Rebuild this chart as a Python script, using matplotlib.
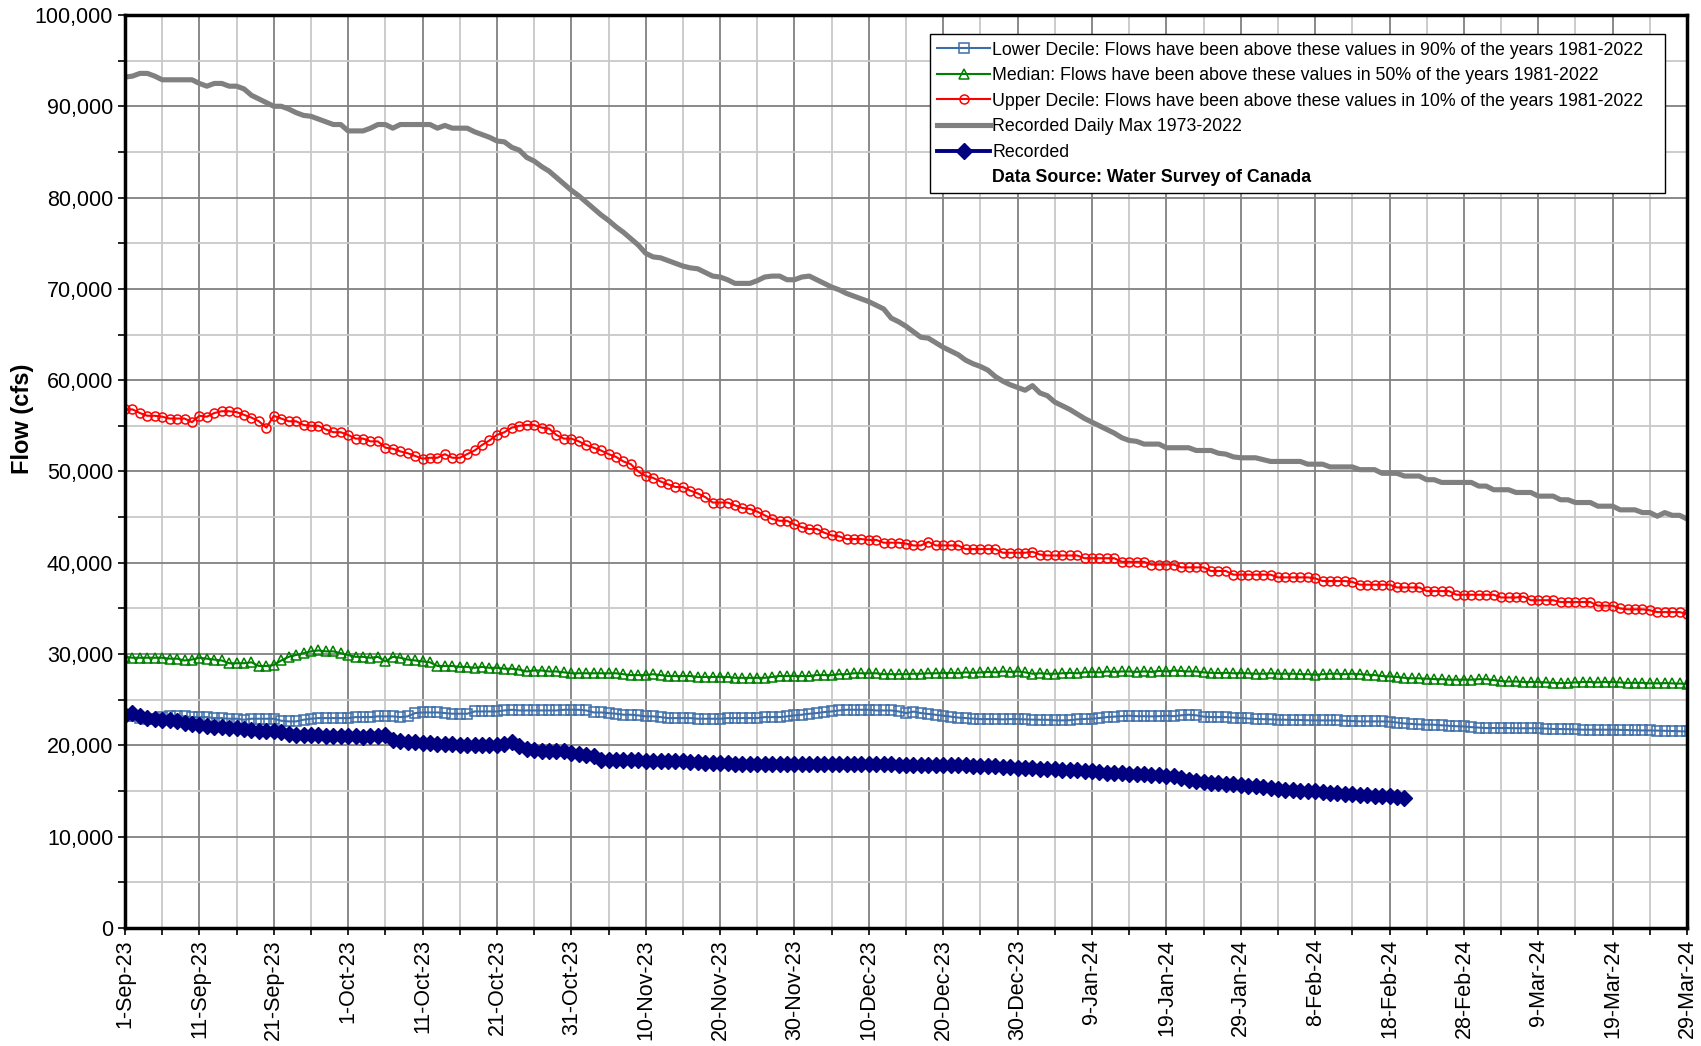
import numpy as np
import pandas as pd
import matplotlib
matplotlib.use("Agg")
import matplotlib.pyplot as plt
from matplotlib.ticker import FuncFormatter, MultipleLocator

plt.rcParams['font.family'] = ['Liberation Sans', 'DejaVu Sans']

dates = pd.date_range("2023-09-01", "2024-03-29", freq="D")

# Recorded Daily Max 1973-2022
daily_max = [
    93200, 93300, 93600, 93600, 93300, 92900, 92900, 92900, 92900, 92900,
    92500, 92200, 92500, 92500, 92200, 92200, 91900, 91200, 90800, 90400,
    90000, 90000, 89700, 89300, 89000, 88900, 88600, 88300, 88000, 88000,
    87300, 87300, 87300, 87600, 88000, 88000, 87600, 88000, 88000, 88000,
    88000, 88000, 87600, 87900, 87600, 87600, 87600, 87200, 86900, 86600,
    86200, 86100, 85500, 85200, 84400, 84000, 83400, 82900, 82200, 81500,
    80800, 80200, 79500, 78800, 78100, 77500, 76800, 76200, 75500, 74800,
    73900, 73500, 73400, 73100, 72800, 72500, 72300, 72200, 71800, 71400,
    71300, 71000, 70600, 70600, 70600, 70900, 71300, 71400, 71400, 71000,
    71000, 71300, 71400, 71000, 70600, 70200, 69900, 69500, 69200, 68900,
    68600, 68200, 67800, 66800, 66400, 65900, 65300, 64700, 64600, 64100,
    63600, 63200, 62800, 62200, 61800, 61500, 61100, 60400, 59900, 59500,
    59200, 58900, 59400, 58600, 58300, 57600, 57200, 56800, 56300, 55800,
    55400, 55000, 54600, 54200, 53700, 53400, 53300, 53000, 53000, 53000,
    52600, 52600, 52600, 52600, 52300, 52300, 52300, 52000, 51900, 51600,
    51500, 51500, 51500, 51300, 51100, 51100, 51100, 51100, 51100, 50800,
    50800, 50800, 50500, 50500, 50500, 50500, 50200, 50200, 50200, 49800,
    49800, 49800, 49500, 49500, 49500, 49100, 49100, 48800, 48800, 48800,
    48800, 48800, 48400, 48400, 48000, 48000, 48000, 47700, 47700, 47700,
    47300, 47300, 47300, 46900, 46900, 46600, 46600, 46600, 46200, 46200,
    46200, 45800, 45800, 45800, 45500, 45500, 45100, 45500, 45200, 45200,
    44800,
]

# Upper Decile
upper = [
    56800, 56800, 56400, 56100, 56100, 56000, 55800, 55800, 55800, 55400,
    56100, 56000, 56400, 56600, 56600, 56500, 56200, 55900, 55500, 54800,
    56100, 55800, 55500, 55500, 55100, 55000, 55000, 54600, 54300, 54300,
    54000, 53600, 53600, 53300, 53300, 52600, 52500, 52200, 52000, 51700,
    51400, 51500, 51500, 51900, 51500, 51500, 51900, 52300, 52900, 53400,
    54000, 54300, 54800, 55000, 55100, 55100, 54800, 54700, 54000, 53600,
    53600, 53300, 52900, 52600, 52300, 51900, 51600, 51100, 50800, 50000,
    49500, 49300, 48900, 48600, 48300, 48300, 47900, 47600, 47200, 46600,
    46600, 46600, 46300, 46000, 45900, 45600, 45200, 44800, 44600, 44600,
    44200, 43900, 43700, 43700, 43300, 43000, 42900, 42600, 42600, 42600,
    42500, 42500, 42200, 42200, 42200, 42100, 41900, 41900, 42300, 41900,
    41900, 41900, 41900, 41500, 41500, 41500, 41500, 41500, 41100, 41100,
    41100, 41100, 41200, 40900, 40800, 40800, 40800, 40800, 40800, 40500,
    40500, 40500, 40500, 40500, 40100, 40100, 40100, 40100, 39800, 39800,
    39800, 39800, 39500, 39500, 39500, 39500, 39100, 39100, 39100, 38700,
    38700, 38700, 38700, 38700, 38700, 38400, 38400, 38400, 38400, 38400,
    38300, 38000, 38000, 38000, 38000, 37900, 37600, 37600, 37600, 37600,
    37600, 37300, 37300, 37300, 37300, 36900, 36900, 36900, 36900, 36500,
    36500, 36500, 36500, 36500, 36500, 36200, 36200, 36200, 36300, 35900,
    35900, 35900, 35900, 35700, 35700, 35700, 35700, 35700, 35300, 35300,
    35300, 35000, 34900, 34900, 34900, 34800, 34600, 34600, 34600, 34600,
    34400,
]

# Median
median = [
    29700, 29600, 29600, 29600, 29600, 29600, 29500, 29500, 29300, 29400,
    29600, 29500, 29400, 29300, 29000, 29000, 29000, 29100, 28700, 28700,
    28800, 29300, 29700, 29900, 30100, 30300, 30400, 30300, 30300, 30100,
    29900, 29700, 29700, 29600, 29700, 29200, 29700, 29600, 29400, 29300,
    29200, 29100, 28700, 28700, 28700, 28600, 28600, 28500, 28600, 28500,
    28500, 28400, 28400, 28300, 28100, 28200, 28200, 28100, 28100, 28000,
    27900, 27900, 27900, 27900, 27900, 27900, 27900, 27800, 27700, 27700,
    27700, 27800, 27700, 27600, 27600, 27600, 27600, 27500, 27500, 27500,
    27500, 27500, 27400, 27400, 27400, 27400, 27400, 27500, 27600, 27600,
    27600, 27600, 27600, 27700, 27700, 27700, 27800, 27800, 27900, 27900,
    27900, 27900, 27800, 27800, 27800, 27800, 27850, 27850, 27900, 27900,
    27920, 27950, 27900, 28000, 27950, 27990, 28050, 28000, 28100, 28050,
    28100, 28000, 27850, 27900, 27850, 27850, 27900, 27950, 27900, 28000,
    28030, 28000, 28100, 28050, 28100, 28100, 28050, 28100, 28050, 28150,
    28100, 28200, 28150, 28100, 28100, 28000, 27950, 27920, 27950, 27900,
    27920, 27900, 27850, 27850, 27900, 27850, 27850, 27850, 27800, 27800,
    27740, 27800, 27850, 27850, 27800, 27850, 27800, 27750, 27700, 27600,
    27550, 27500, 27400, 27350, 27350, 27300, 27260, 27250, 27200, 27200,
    27190, 27200, 27250, 27250, 27150, 27050, 27000, 27000, 26950, 26950,
    26940, 26900, 26850, 26820, 26850, 26900, 26950, 26950, 26900, 26950,
    26940, 26900, 26850, 26850, 26850, 26800, 26800, 26820, 26800, 26780,
    26750,
]

# Lower Decile
lower = [
    23250, 23180, 22990, 22920, 22920, 23100, 23180, 23180, 23180, 23100,
    23100, 23100, 22990, 22990, 22920, 22920, 22810, 22920, 22920, 22920,
    22920, 22700, 22630, 22630, 22810, 22920, 22990, 22990, 22990, 22990,
    22990, 23100, 23100, 23100, 23180, 23180, 23180, 23100, 23180, 23540,
    23610, 23610, 23610, 23540, 23470, 23470, 23470, 23720, 23720, 23720,
    23720, 23830, 23900, 23830, 23830, 23830, 23830, 23830, 23830, 23900,
    23900, 23900, 23830, 23610, 23610, 23540, 23470, 23360, 23360, 23290,
    23180, 23180, 23100, 22990, 22990, 22990, 22990, 22920, 22920, 22920,
    22920, 22990, 22990, 22990, 22990, 22990, 23100, 23100, 23100, 23180,
    23290, 23360, 23470, 23540, 23650, 23720, 23830, 23900, 23900, 23900,
    23900, 23830, 23830, 23830, 23720, 23540, 23700, 23540, 23450, 23350,
    23250, 23150, 23050, 22990, 22920, 22880, 22880, 22880, 22850, 22880,
    22880, 22850, 22820, 22810, 22800, 22750, 22740, 22760, 22850, 22900,
    22920, 23000, 23100, 23150, 23200, 23250, 23200, 23200, 23180, 23200,
    23250, 23200, 23300, 23360, 23300, 23150, 23100, 23100, 23100, 23050,
    22990, 22950, 22900, 22880, 22850, 22820, 22810, 22800, 22780, 22750,
    22740, 22740, 22740, 22740, 22700, 22650, 22630, 22630, 22630, 22630,
    22600, 22500, 22400, 22350, 22300, 22280, 22260, 22200, 22150, 22100,
    22080, 22000, 21950, 21900, 21900, 21900, 21900, 21880, 21880, 21880,
    21880, 21850, 21800, 21790, 21780, 21750, 21720, 21720, 21720, 21720,
    21720, 21700, 21680, 21650, 21640, 21640, 21620, 21600, 21580, 21550,
    21530,
]

# Recorded (ends 20-Feb-24)
recorded = [
    23360, 23540, 23250, 22990, 22920, 22810, 22740, 22630, 22450, 22370,
    22260, 22150, 22010, 22010, 21900, 21900, 21790, 21720, 21610, 21610,
    21530, 21420, 21280, 21170, 21170, 21100, 21100, 21060, 20990, 20990,
    20990, 20990, 20920, 20990, 21060, 21170, 20620, 20440, 20330, 20330,
    20260, 20260, 20180, 20180, 20180, 20070, 20070, 20070, 20070, 20070,
    20070, 20180, 20330, 19960, 19600, 19530, 19420, 19420, 19340, 19340,
    19160, 19090, 18980, 18800, 18430, 18430, 18430, 18430, 18360, 18360,
    18250, 18250, 18250, 18250, 18250, 18250, 18140, 18140, 18070, 18070,
    18070, 18070, 17990, 17990, 17990, 17990, 17990, 17990, 17990, 17990,
    17990, 17990, 17990, 17990, 17990, 17990, 17990, 17990, 17990, 17990,
    17990, 17950, 17950, 17920, 17880, 17880, 17880, 17880, 17880, 17880,
    17880, 17850, 17830, 17810, 17750, 17700, 17700, 17700, 17680, 17600,
    17520, 17500, 17480, 17450, 17400, 17370, 17340, 17300, 17260, 17200,
    17150, 17100, 17000, 16960, 16930, 16900, 16880, 16840, 16790, 16750,
    16680, 16610, 16400, 16200, 16050, 15980, 15900, 15850, 15800, 15750,
    15690, 15600, 15500, 15400, 15300, 15220, 15150, 15100, 15050, 15000,
    14960, 14900, 14830, 14780, 14700, 14630, 14600, 14550, 14500, 14460,
    14420, 14330, 14230,
]

fig = plt.figure(figsize=(17.01, 10.46), dpi=100)
ax = fig.add_axes([0.0735, 0.1128, 0.9183, 0.8729])

ax.plot(dates, lower, color="#3e6ea8", lw=1.5, marker="s", ms=6.5,
        mfc="none", mec="#3e6ea8", mew=1.1,
        label="Lower Decile: Flows have been above these values in 90% of the years 1981-2022")
ax.plot(dates, median, color="#008000", lw=1.5, marker="^", ms=6.5,
        mfc="none", mec="#008000", mew=1.1,
        label="Median: Flows have been above these values in 50% of the years 1981-2022")
ax.plot(dates, upper, color="#ff0000", lw=1.5, marker="o", ms=6.5,
        mfc="none", mec="#ff0000", mew=1.1,
        label="Upper Decile: Flows have been above these values in 10% of the years 1981-2022")
ax.plot(dates, daily_max, color="#808080", lw=3.7,
        label="Recorded Daily Max 1973-2022")
ax.plot(dates[:len(recorded)], recorded, color="#000080", lw=2.8, marker="D",
        ms=8.5, mfc="#000080", mec="#000080", label="Recorded")
ax.plot([], [], color="none", label="Data Source: Water Survey of Canada")

ax.set_xlim(dates[0], dates[-1])
ax.set_ylim(0, 100000)
ax.yaxis.set_major_locator(MultipleLocator(10000))
ax.yaxis.set_minor_locator(MultipleLocator(5000))
ax.yaxis.set_major_formatter(FuncFormatter(lambda v, p: f"{int(v):,}"))

ax.set_xticks(dates[::10])
ax.set_xticks(dates[5::10], minor=True)
ax.set_xticklabels([f"{d.day}-{d.strftime('%b-%y')}" for d in dates[::10]],
                   rotation=90)

ax.grid(which="major", color="#808080", lw=1.3)
ax.grid(which="minor", color="#c8c8c8", lw=1.3)
ax.set_axisbelow(True)

for s in ax.spines.values():
    s.set_linewidth(2.5)
    s.set_color("black")
ax.tick_params(which="both", direction="out", length=5, width=1.2, labelsize=15.5)
ax.tick_params(axis="x", pad=3)

ax.set_ylabel("Flow (cfs)", fontsize=17, fontweight="bold")
ax.yaxis.set_label_coords(-0.058, 0.558)

leg = ax.legend(loc="upper left", bbox_to_anchor=(0.5153, 0.5, 0.4708, 0.4786),
                mode="expand", fontsize=12.8,
                frameon=True, fancybox=False, edgecolor="black", framealpha=1,
                borderpad=0.4, labelspacing=0.48, handlelength=3.0,
                handletextpad=0.1, borderaxespad=0)
leg.get_frame().set_linewidth(1.0)
leg.get_texts()[-1].set_fontweight("bold")

fig.savefig("out.png", dpi=100)
